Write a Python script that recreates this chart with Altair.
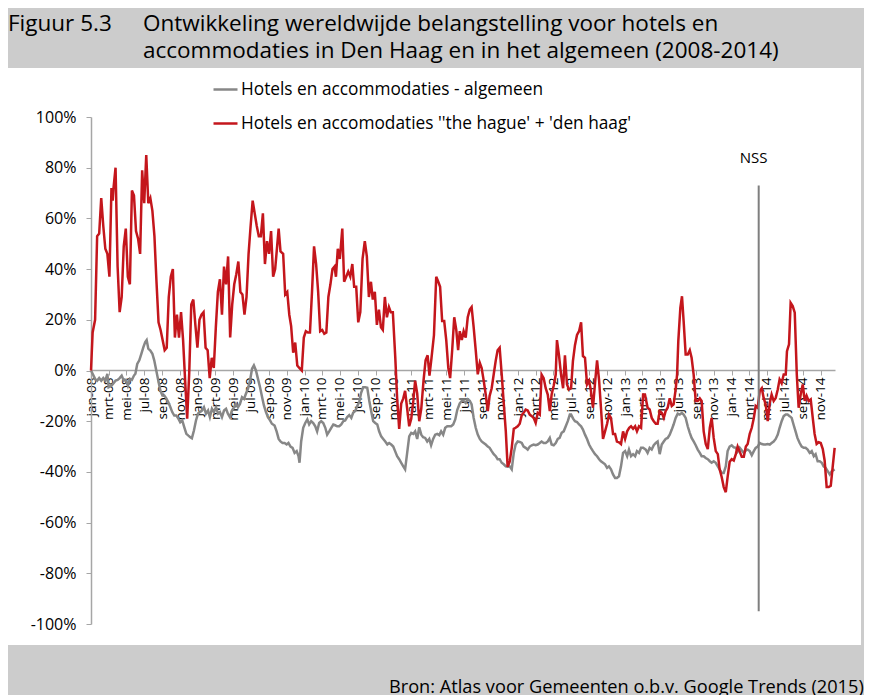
import altair as alt
import pandas as pd
from datetime import datetime, timedelta

# ---- data: (week number since 1 Jan 2008, index %) ----
RED = [(0,0),(0.8,15),(2,20),(3,53),(4,54),(5,68),(6,57),(7,48),(8,46),(9,37),(10,72),(10.6,67),(11,72),(12,80),
(13,41),(14,23),(15,29),(16,49),(17,56),(18,37),(19,34),(20,71),(21,69),(22,55),(23,52),(24,46),(25,79),(26,66),
(27,85),(28,66),(29,68),(30,63),(31,53),(32,35),(33,19),(34,16),(35,12),(36,8),(37,9),(38,29),(39,37),(40,40),
(41,13),(42,22),(43,13),(44,23),(45,12),(46,-4),(47,-19),(48,-1),(49,26),(50,28),(51,18),(52,9),(53,20),(54,22),
(55,23),(56,9),(57,8),(58,-3),(59,5),(60,1),(61,17),(62,31),(63,36),(64,22),(65,41),(66,34),(67,45),(68,13),
(69,26),(70,34),(71,38),(72,43),(73,31),(74,30),(75,22),(76,29),(77,46),(78,57),(79,67),(80,62),(81,57),(82,53),
(83,53),(84,62),(85,42),(86,51),(87,46),(88,55),(89,37),(90,40),
(91.7,56),(92.6,47),(93.9,46),(94.9,30),(95.9,31),(96.9,22),(97.8,17.5),(98.8,7),(99.8,11),(100.8,2),(101.8,1),
(103,0),(104,13),(105,15.5),(106,15),(107,15),(108,31),(109,49),(110,42),(111,31),(112,15.5),(113,16),(114,14.5),
(115,15),(116,29),(117,34),(118,40),(119,41),(119.7,37),(120.6,48),(121.6,44),(122.8,56),(123.7,35),(124.7,37),
(125.7,39),(126.7,37),(127.7,42),(128.6,33),(129.6,33),(130.6,19),(131.6,23),(132.7,44),(133.8,51),(134.8,45),
(135.8,29),(136.8,35),(137.7,28),(138.7,31),(139.7,18),(140.7,24),(141.7,17),(142.6,16),(143.6,29),(144.6,21),
(145.6,25),(146.5,23),(147.5,23),(148.7,5),(149.6,-11),(150.6,-23),(151.6,-13),(152.6,-11),(153.5,-8),(154.5,-15),
(155.5,-22),(156.5,-19),(157.5,-12),(158.4,-4),(159.4,-9),(160.4,-20),(161.4,-15),(162.5,-4),(163.5,4),(164.5,6),
(165.4,-2),(166.4,5),(167.6,14),(168.7,37),(169.7,35),(170.6,33),(171.6,19.5),(172.6,19.5),(173.6,12),(174.6,1),
(175.5,-3),(176.5,8),(177.5,21),(178.5,16),(179.4,8),
(180.2,15.5),(181.2,12),(182.1,15.5),(183.1,13),(184.1,21),(185.1,24),(186,25),(187,17),(188,8),(189,-1.5),(190,3),
(190.9,1),(191.9,-4),(192.9,-9.5),(193.9,-16),(194.8,-10),(195.8,-7),(196.8,-1.5),(197.8,4),(198.7,8),(199.7,9),
(200.7,-1.5),(201.7,-13),(202.7,-24),(203.6,-38),(204.6,-36),(205.6,-30.5),(206.6,-23),(207.5,-22.6),(208.5,-22),
(209.5,-21),(210.5,-17.6),(211.4,-16.7),(212.4,-15.4),(213.4,-15.8),(214.4,-17.4),(215.4,-18),(216.3,-18.7),
(217.3,-20.7),(218.3,-16.7),(219.3,-17.4),(220.2,-1.6),(221.2,-3),(222.2,-7),(223.2,-9.5),(224.2,-16),(225.1,-9.5),
(226.1,-6),(227.1,-1.6),(227.7,12),(228.7,6),(229.7,-1.6),(230.7,-7),(231.6,6),(232.6,-5.5),(233.6,-7.5),(234.6,-7),
(235.5,3.7),(236.5,10),(237.5,14),(238.5,15.5),(239.5,19),(240.4,5.7),(241.4,5),(242.4,-5.5),(243.4,-4),(244.3,-8),
(245.3,-14.7),(246.3,-5),(247.3,4),(248.3,-4),(249.2,-14.7),(250.2,-27),(251.2,-24),(252.2,-21),(253.1,-17.4),
(254.1,-18.7),(255.1,-25),(256.1,-25),(257,-28),(258,-28.3),(259,-29),(260,-24),(261,-27),(262,-24),(263,-22.6),
(263.9,-22),(264.9,-23),(265.9,-22),(266.8,-24),(267.8,-22),(268.8,-22.6),(269.8,-9.5),(270.7,-9.5),
(272,-14.7),(273,-15.4),(274,-18.7),(275,-20),(276,-21),(276.9,-21),(277.9,-16),(278.9,-16.7),(279.9,-18.7),
(280.8,-16),(281.8,-14.7),(282.8,-11),(283.8,-14),(284.7,-13.4),(285.7,-7.5),(286.4,-1.6),(287,11.6),(288,24.7),
(288.8,29.3),(289.6,19.5),(290.6,6.3),(291.6,6.3),(292.6,8),(293.5,5),(294.5,-1.6),(295.5,-12),(296.5,-12),
(297.5,-11),(298.4,-12),(299.4,-24),(300.4,-29),(301.4,-31),(302.4,-22.6),(303.3,-18.7),(304.3,-26.6),(305.3,-31.8),
(306.3,-33),(307.2,-39),(308.2,-42),(309.2,-46),(310.2,-48),(311.1,-42),(312.1,-36),(313.1,-35),(314.1,-35.5),
(315.1,-33),(316,-30),(317,-32),(318,-34),(319,-34),(320,-30),(320.9,-29),(321.9,-25),(322.9,-22.6),(323.9,-18.7),
(324.8,-14),(325.8,-14.7),(326.8,-8),(327.8,-7),(328.7,-10.8),(329.7,-13.4),(330.7,-20),(331.7,-12.8),(332.6,-9.5),
(333.6,-12),(334.6,-10.8),(335.6,-7.5),(336.5,-3.5),(337.5,-5),(338.5,-1.6),(339.5,-1.6),(340.1,7.6),(341.1,10.3),
(341.9,26.7),(342.9,25.4),(343.9,22.8),(344.9,-1.6),(345.8,-14.7),(346.8,-9.5),(347.8,-5.5),(348.8,-12),(349.7,-10),
(350.7,-12),(351.7,-11.4),(352.7,-18.7),(353.6,-25),(354.6,-29),(355.6,-28.3),(356.6,-28.6),(357.6,-31),
(358.5,-35.5),(359.5,-46),(360.5,-46),(361.5,-45.5),(362.5,-37.5),(363.4,-30.5)]

GREY = [(0,0),(0.8,-1.3),(2,-3.3),(3,-4),(4,-3),(5,-4),(6,-3),(7,-4),(8,-1.3),(8.6,-6.6),(10,-6),(11,-5),(12,-4),
(13,-3.7),(14,-3),(15,-2),(16,-4),(17,-3.7),(18,-6),(19,-3.3),(20,-3.7),(21,-2),(21.7,-1.3),(22.6,2.6),(23.6,4),
(24.6,6.6),(25.6,9.2),(26.5,11.2),(27.2,12),(28,8.6),(29,7.9),(30,6.6),(30.9,4),(31.9,0),(32.9,-4),(33.9,-7.9),
(34.9,-9.9),(35.8,-9.9),(36.8,-11),(37.8,-12.5),(38.8,-14.5),(39.7,-16.4),(40.7,-17.8),(41.7,-17.8),(42.7,-19),
(43.6,-20.4),(44.6,-19.7),(45.6,-22.4),(46.6,-25),(47.6,-25.7),(48.5,-26.3),(49.3,-26.7),(50.3,-23.7),(51.3,-19.7),
(52.3,-17),(53.3,-16.4),(54.2,-15.8),(55.2,-14.5),(56.2,-17),(57.2,-15.8),(58.1,-18.4),(59.1,-15.1),(60.1,-16.4),
(61.1,-14.5),(62.1,-17),(63,-16.4),(64,-18.4),(65,-15.8),(66,-15.1),(66.9,-17),(67.9,-18.4),(68.9,-15.8),
(69.9,-14.5),(70.8,-13.2),(71.8,-14.5),(72.8,-13.2),(73.8,-10.5),(74.8,-11.2),(75.7,-9.2),(76.7,-7.2),(77.7,-4),
(78.7,0.7),(79.6,2),(80.6,0),(81.6,-3.3),(82.6,-6.6),(83.6,-10.5),(84.5,-13.8),(85.5,-16.4),(86.5,-18.4),
(87.5,-19.7),(88.4,-21),(89.7,-21.7),
(90.7,-24),(91.7,-27),(92.6,-28),(93.6,-28.6),(94.6,-28.6),(95.6,-29.2),(96.5,-28.6),(97.5,-30),(98.5,-30.5),
(99.5,-32.5),(100.5,-31.8),(101.4,-33.8),(101.9,-36.4),(102.7,-28),(103.7,-22.6),(104.7,-20.7),(105.7,-19.3),
(106.6,-21.3),(107.6,-20),(108.6,-20.7),(109.6,-22),(110.5,-24),(111.5,-20.7),(112.5,-20),(113.5,-20.7),
(114.5,-22.6),(115.4,-25.3),(116.4,-24),(117.4,-22.6),(118.4,-21.3),(119.3,-21.6),(120.3,-22),(121.3,-22),
(122.3,-21.3),(123.3,-20),(124.2,-19.7),(125.2,-18.4),(126.2,-17.6),(127.2,-18.7),(128.1,-16.7),(129.1,-16),
(130.1,-14),(131.1,-12.4),(132,-8.8),(133,-6.6),(134,-6.6),(135,-6.8),(136,-12),(136.9,-16),(137.9,-20),
(138.9,-20.7),(139.9,-21.3),(140.8,-24),(141.8,-26),(142.8,-27),(143.8,-28),(144.8,-29.2),(145.7,-28.6),
(146.7,-29.2),(147.7,-30),(148.7,-32),(149.6,-33.8),(150.6,-35),(151.6,-36.4),(152.6,-37.8),(153.5,-39),
(154.5,-32.5),(155.5,-26),(156.5,-24.6),(157.5,-25),(158.4,-24),(159.4,-27),(160.4,-22.4),(161.4,-25.3),
(162.3,-26.3),(163.3,-26.6),(164.3,-28),(165.3,-27),(166.2,-29.5),(167.2,-27),(168.2,-25.3),(169.2,-25),
(170.2,-25.5),(171.1,-24),(172.1,-25.3),(173.1,-22.6),(174.1,-22),(175,-22),(176,-22),(177,-21.3),(178,-19.3),
(179,-15.5),(180.2,-13),(181.2,-12),(182.1,-12),(183.1,-12.8),(184.1,-11.4),(185.1,-12),(186,-13.4),(187,-18.7),
(188,-22.6),(189,-25.3),(190,-27),(190.9,-28),(191.9,-28.6),(192.9,-29.2),(193.9,-30),(194.8,-30.5),(195.8,-31.8),
(196.8,-33),(197.8,-33.8),(198.7,-35),(199.7,-35),(200.7,-36.4),(201.7,-37),(202.7,-37.8),(203.6,-38),
(204.6,-37.8),(205.6,-39),(206.6,-32.5),(207.5,-29.2),(208.5,-28),(209.5,-28.2),(210.5,-28.6),(211.4,-30),
(212.4,-30.5),(213.4,-31.2),(214.4,-30),(215.4,-29.5),(216.3,-29.2),(217.3,-29.5),(218.3,-29.2),(219.3,-28.6),
(220.2,-28),(221.2,-28.6),(222.2,-28.6),(223.2,-28),(224.2,-26.6),(225.1,-29.2),(226.1,-29.5),(227.1,-28.6),
(228.1,-27),(229,-26.6),(230,-24.6),(231,-24),(232,-22),(233,-20),(234,-17.4),(234.6,-17.4),(235.6,-19),
(236.5,-20),(237.5,-20.3),(238.5,-21.3),(239.5,-22),(240.4,-23.3),(241.4,-25.3),(242.4,-27),(243.4,-29.2),
(244.3,-30.5),(245.3,-31.8),(246.3,-33),(247.3,-33.8),(248.3,-35),(249.2,-35.8),(250.2,-36.4),(251.2,-37),
(252.2,-38.4),(253.1,-37.8),(254.1,-39),(255.1,-41),(256.1,-42.4),(257,-42.4),(258,-41.7),(259,-37.8),(260,-32.5),
(261,-31.8),(262,-33.8),(262.9,-31.2),(263.9,-33.8),(264.9,-33),(265.9,-33.8),(266.8,-31.8),(267.8,-32.5),
(268.8,-30.5),(269.8,-30.5),
(271.1,-31.2),(272,-32.5),(273,-30.5),(274,-31.2),(275,-29.5),(276,-28.6),(276.9,-28),(277.9,-33),(278.9,-29.2),
(279.9,-28),(280.8,-27),(281.8,-26.6),(282.8,-25.3),(283.8,-23.3),(284.7,-21.3),(285.7,-18.7),(286.7,-17),
(287.7,-17.4),(288.7,-16.7),(289.6,-17.4),(290.6,-18.7),(291.6,-22),(292.6,-24.6),(293.5,-26.6),(294.5,-28),
(295.5,-29.5),(296.5,-31.2),(297.5,-32.5),(298.4,-33.8),(299.4,-33.8),(300.4,-34.5),(301.4,-35),(302.4,-35.8),
(303.3,-36.4),(304.3,-35.8),(305.3,-36.4),(306.3,-37.8),(307.2,-39),(308.2,-40.4),(309.2,-40.4),(310.2,-37.8),
(311.1,-31.8),(312.1,-30),(313.1,-29.5),(314.1,-30.3),(315.1,-30.5),(316,-32),(317,-30.5),(318,-31.5),(319,-32.5),
(320,-31.5),(320.9,-31.2),(321.9,-31.8),(322.9,-33.4),(323.9,-31.8),(324.8,-30.5),(325.8,-30),(326.8,-28.6),
(327.8,-29),(328.7,-29.2),(329.7,-29.2),(330.7,-29),(331.7,-29.2),(332.6,-28.6),(333.6,-28),(334.6,-27),
(335.6,-25.3),(336.5,-22.6),(337.5,-20),(338.5,-18),(339.5,-17.4),(340.4,-17.4),(341.4,-18),(342.4,-18.7),
(343.3,-21.3),(344.3,-24),(345.2,-26.6),(346.3,-28.6),(347.3,-30),(348.3,-30.5),(349.2,-30.5),(350.2,-31.2),
(351.2,-32.5),(352.2,-31.8),(353.2,-33.8),(354.1,-33),(355.1,-35.8),(356.1,-35.8),(357.1,-36.4),(358,-37.8),
(359,-38.4),(360,-39.7),(361,-41),(362,-39.7),(363.4,-39)]

SERIES = ["Hotels en accommodaties - algemeen",
          "Hotels en accomodaties ''the hague' + 'den haag'"]
COLORS = ["#878787", "#C4161C"]
MONTHS_NL = ["jan", "feb", "mrt", "apr", "mei", "jun", "jul", "aug", "sep", "okt", "nov", "dec"]
TICK_YEARS = [2008, 2009, 2010, 2011, 2012, 2013, 2014]
TICK_MONTHS = [1, 3, 5, 7, 9, 11]
Y_TICKS = [-100, -80, -60, -40, -20, 0, 20, 40, 60, 80, 100]
NSS = {"label": "NSS", "date": "2014-04-03T00:00:00", "top": 73, "bottom": -95, "label_y": 84}
TITLE_NUM = "Figuur 5.3"
TITLE_LINES = ["Ontwikkeling wereldwijde belangstelling voor hotels en",
               "accommodaties in Den Haag en in het algemeen (2008-2014)"]
SOURCE = "Bron: Atlas voor Gemeenten o.b.v. Google Trends (2015)"

FONT = "Open Sans"
BASE = datetime(2008, 1, 1)

# layout: the view is the white panel; the data occupy a sub-range of it
PANEL_W, PANEL_H = 853, 577
X_RANGE = [83, 827]
Y_RANGE = [556, 49]
ZERO_Y = 302


def week_date(w):
    return (BASE + timedelta(days=7 * w)).strftime("%Y-%m-%dT%H:%M:%S")


def frame(pairs, name):
    return pd.DataFrame({"date": [week_date(w) for w, _ in pairs],
                         "value": [v for _, v in pairs],
                         "series": name})


grey_df = frame(GREY, SERIES[0])
red_df = frame(RED, SERIES[1])

tick_values = [alt.DateTime(year=y, month=m, date=1) for y in TICK_YEARS for m in TICK_MONTHS]
label_expr = ("['" + "','".join(MONTHS_NL) + "'][month(datum.value)] + '-' + timeFormat(datum.value, '%y')")

AXIS_GREY = "#A6A6A6"
y_scale = alt.Scale(domain=[-100, 100], nice=False, range=Y_RANGE)
x_enc = alt.X("date:T",
              scale=alt.Scale(domain=[alt.DateTime(year=2008, month=1, date=1),
                                      alt.DateTime(year=2014, month=12, date=20)],
                              range=X_RANGE),
              axis=alt.Axis(values=tick_values, labelExpr=label_expr, labelAngle=270,
                            title=None, grid=False, offset=-(PANEL_H - ZERO_Y),
                            domainColor=AXIS_GREY, domainWidth=1.5, tickColor=AXIS_GREY,
                            tickSize=5, labelFontSize=13.5, labelFont=FONT, labelColor="black",
                            labelPadding=2, labelOverlap=False, labelSeparation=0,
                            labelFlush=False, labelBound=False))
y_enc = alt.Y("value:Q", scale=y_scale,
              axis=alt.Axis(values=Y_TICKS, labelExpr="datum.value + '%'", title=None, grid=False,
                            offset=-X_RANGE[0], domainColor=AXIS_GREY, domainWidth=1.5,
                            tickColor=AXIS_GREY, tickSize=5, labelPadding=10, labelFontSize=16,
                            labelFont=FONT, labelColor="black"))
color_enc = alt.Color("series:N",
                      scale=alt.Scale(domain=SERIES, range=COLORS),
                      legend=alt.Legend(orient="none", legendX=204, legendY=8, title=None,
                                        direction="vertical", symbolType="stroke", symbolSize=576,
                                        symbolStrokeWidth=2.5, labelFontSize=17.3, labelFont=FONT,
                                        labelColor="black", rowPadding=12, labelOffset=2, padding=0,
                                        labelLimit=700))

grey_line = alt.Chart(grey_df).mark_line(strokeWidth=2.5).encode(x=x_enc, y=y_enc, color=color_enc)
red_line = alt.Chart(red_df).mark_line(strokeWidth=2.5).encode(x=x_enc, y=y_enc, color=color_enc)

nss_df = pd.DataFrame([NSS])
nss_rule = alt.Chart(nss_df).mark_rule(color="#7F7F7F", strokeWidth=2).encode(
    x=x_enc, y=alt.Y("top:Q", scale=y_scale), y2="bottom:Q")
nss_text = alt.Chart(nss_df).mark_text(font=FONT, fontSize=15, color="black", dx=-5, baseline="middle").encode(
    x=x_enc, y=alt.Y("label_y:Q", scale=y_scale), text="label:N")


def text_layer(txt, px, py, size, align="left"):
    return alt.Chart(pd.DataFrame({"t": [txt]})).mark_text(
        font=FONT, fontSize=size, color="black", align=align, baseline="alphabetic").encode(
        x=alt.value(px), y=alt.value(py), text="t:N")


title1 = text_layer(TITLE_NUM, 0, -37, 22.5)
title2 = text_layer(TITLE_LINES[0], 135, -37, 22.5)
title3 = text_layer(TITLE_LINES[1], 135, -10, 22.5)
source = text_layer(SOURCE, 381, 625, 18.2)

chart = alt.layer(grey_line, red_line, nss_rule, nss_text, title1, title2, title3, source).properties(
    width=PANEL_W, height=PANEL_H,
    padding={"left": 0, "top": 60, "right": 3, "bottom": 50},
    autosize=alt.AutoSizeParams(type="none"),
).configure(background="#CCCCCC").configure_view(stroke=None, fill="white").configure_axisX(labelOverlap=False)

chart.save("out.html", embed_options={"renderer": "svg", "actions": False})
